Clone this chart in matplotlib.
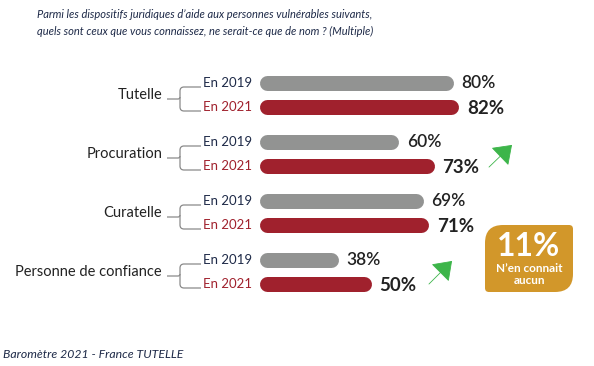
import matplotlib
matplotlib.use("Agg")
import matplotlib.pyplot as plt
from matplotlib.path import Path
from matplotlib.patches import PathPatch, FancyArrowPatch

categories = ["Tutelle", "Procuration", "Curatelle", "Personne de confiance"]
years = ["En 2019", "En 2021"]
values_2019 = [80, 60, 69, 38]
values_2021 = [82, 73, 71, 50]
title_lines = ["Parmi les dispositifs juridiques d\u2019aide aux personnes vuln\u00e9rables suivants,",
               "quels sont ceux que vous connaissez, ne serait-ce que de nom ? (Multiple)"]
footer = "Barom\u00e8tre 2021 - France TUTELLE"
none_pct = "11%"
none_label = ["N\u2019en connait", "aucun"]

FONT = "Lato"
W, H = 594, 366
fig = plt.figure(figsize=(W / 100, H / 100), dpi=100)

# pixel overlay axes
pa = fig.add_axes([0, 0, 1, 1])
pa.set_xlim(0, W)
pa.set_ylim(H, 0)
pa.axis("off")

# data axes for bars (x in percent); bars start from a truncated baseline
px_per_pct = 2.737
zero_px = 234.5
base = 9
ax = fig.add_axes([0, 0, 1, 1], facecolor="none")
ax.set_xlim(-zero_px / px_per_pct, (W - zero_px) / px_per_pct)
row_px = 59.0
first_px = 95.0
ax.set_ylim((H - first_px) / row_px, -first_px / row_px)
ax.axis("off")

GRAY = "#929392"
RED = "#a0212d"
NAVY = "#1e2a48"
TXT = "#222222"
lw_px = 15
lw_pt = lw_px * 0.72
r = (lw_px / 2) / px_per_pct
off = 12 / row_px

for i, (cat, v19, v21) in enumerate(zip(categories, values_2019, values_2021)):
    y19, y21 = i - off, i + off
    ax.plot([base + r, v19 - r], [y19, y19], color=GRAY, lw=lw_pt, solid_capstyle="round")
    ax.plot([base + r, v21 - r], [y21, y21], color=RED, lw=lw_pt, solid_capstyle="round")
    ax.text(v19 + 3.0, y19, f"{v19}%", fontsize=12.5, fontweight="semibold",
            color=TXT, va="center", ha="left", family=FONT)
    ax.text(v21 + 3.0, y21 + 0.02, f"{v21}%", fontsize=13.5, fontweight="bold",
            color=TXT, va="center", ha="left", family=FONT)

    cy = first_px + i * row_px
    pa.text(162, cy, cat, fontsize=10.5, color=TXT, ha="right", va="center", family=FONT)
    pa.text(203, cy - 12, years[0], fontsize=9.5, color=NAVY, ha="left", va="center", family=FONT)
    pa.text(203, cy + 12, years[1], fontsize=9.5, color=RED, ha="left", va="center", family=FONT)
    # bracket
    bc = cy + 4
    t, b = cy - 8, cy + 16
    xv = 180
    rad = 4
    verts = [(167, bc), (xv - 2, bc),
             (xv, bc), (xv, bc - 2),
             (xv, t + rad), (xv, t), (xv + rad, t), (201, t)]
    codes = [Path.MOVETO, Path.LINETO, Path.CURVE3, Path.CURVE3,
             Path.LINETO, Path.CURVE3, Path.CURVE3, Path.LINETO]
    pa.add_patch(PathPatch(Path(verts, codes), fill=False, ec="#8a8a8a", lw=0.9))
    verts = [(xv, bc - 2), (xv, b - rad), (xv, b), (xv + rad, b), (201, b)]
    codes = [Path.MOVETO, Path.LINETO, Path.CURVE3, Path.CURVE3, Path.LINETO]
    pa.add_patch(PathPatch(Path(verts, codes), fill=False, ec="#8a8a8a", lw=0.9))

# title and footer
pa.text(37, 15, title_lines[0], fontsize=8.0, style="italic", color=NAVY, va="center", family=FONT)
pa.text(37, 31, title_lines[1], fontsize=8.0, style="italic", color=NAVY, va="center", family=FONT)
pa.text(3, 355, footer, fontsize=8.8, style="italic", color=NAVY, va="center", family=FONT)

# green arrows
GREEN = "#3db54a"
for (xa, ya, xb, yb) in [(487, 169, 514, 143), (427, 286, 454, 259)]:
    pa.add_patch(FancyArrowPatch((xa, ya), (xb, yb), arrowstyle="-|>,head_length=7,head_width=5",
                                 color=GREEN, lw=0.6, mutation_scale=1.6))

# golden box
GOLD = "#d2972a"
x1, x2, y1, y2 = 485, 573, 225, 292
R = 18
s = 4
verts = [(x1, y1 + R), (x1, y1), (x1 + R, y1),
         (x2 - s, y1), (x2, y1), (x2, y1 + s),
         (x2, y2 - R), (x2, y2), (x2 - R, y2),
         (x1 + s, y2), (x1, y2), (x1, y2 - s),
         (x1, y1 + R)]
codes = [Path.MOVETO, Path.CURVE3, Path.CURVE3,
         Path.LINETO, Path.CURVE3, Path.CURVE3,
         Path.LINETO, Path.CURVE3, Path.CURVE3,
         Path.LINETO, Path.CURVE3, Path.CURVE3,
         Path.CLOSEPOLY]
pa.add_patch(PathPatch(Path(verts, codes), fc=GOLD, ec="none"))
xc = (x1 + x2) / 2
pa.text(xc, 247, none_pct, fontsize=23, fontweight="bold", color="white",
        ha="center", va="center", family=FONT)
pa.text(xc, 269, none_label[0], fontsize=8.5, fontweight="bold", color="white",
        ha="center", va="center", family=FONT)
pa.text(xc, 281, none_label[1], fontsize=8.5, fontweight="bold", color="white",
        ha="center", va="center", family=FONT)

fig.savefig("out.png", dpi=100)
